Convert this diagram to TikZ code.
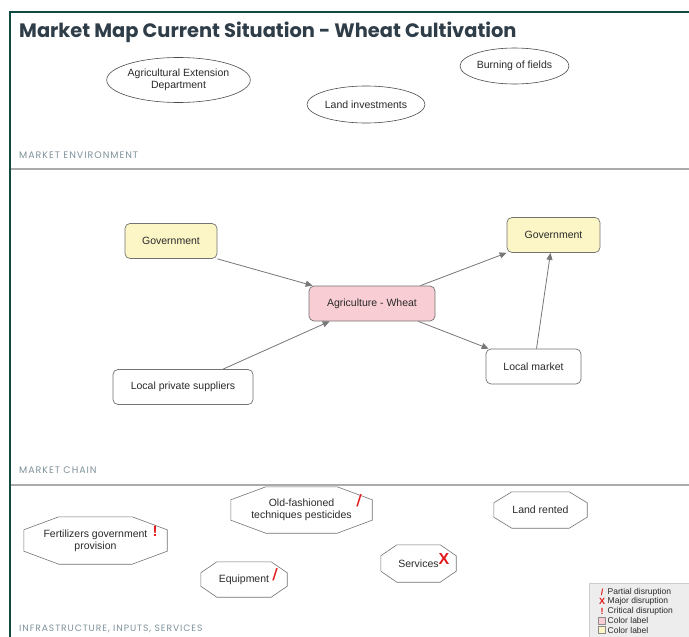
\documentclass[tikz,border=0pt]{standalone}
\usepackage{fontspec}
\setmainfont{Liberation Sans}
\newfontfamily\titlefont{Poppins}
\newfontfamily\secfont{Poppins}[LetterSpace=10]
\newfontfamily\slashfont{DejaVu Sans}
\usetikzlibrary{arrows.meta,shapes.geometric}

\definecolor{framegreen}{HTML}{0E4A3F}
\definecolor{sepgray}{HTML}{ABABAB}
\definecolor{titleblue}{HTML}{2E3D48}
\definecolor{secgray}{HTML}{7F929B}
\definecolor{boxyellow}{HTML}{FCF6C6}
\definecolor{boxpink}{HTML}{F8CDD3}
\definecolor{linegray}{HTML}{777777}
\definecolor{txtgray}{HTML}{2A2A2A}
\definecolor{disred}{HTML}{E3191C}
\definecolor{legendbg}{HTML}{EDEDED}

\newcommand{\octo}[3]{\draw[octline] ([xshift=#2]#1.north west) -- ([xshift=-#2]#1.north east) -- ([yshift=-#3]#1.north east) -- ([yshift=#3]#1.south east) -- ([xshift=-#2]#1.south east) -- ([xshift=#2]#1.south west) -- ([yshift=#3]#1.south west) -- ([yshift=-#3]#1.north west) -- cycle;}

\begin{document}
\begin{tikzpicture}[x=1pt,y=-1pt,
  every node/.style={font=\fontsize{10.5}{12}\selectfont, text=txtgray},
  actor/.style={draw=black!55, rounded corners=5pt, minimum height=35pt, inner sep=0pt, line width=0.7pt},
  envell/.style={ellipse, draw=black!70, inner sep=0pt, line width=0.6pt, align=center},
  infra/.style={inner sep=0pt, align=center},
  octline/.style={draw=black!55, line width=0.6pt},
  flow/.style={draw=linegray, line width=0.8pt, -{Triangle[length=7pt,width=6pt]}},
  disrupt/.style={text=disred, inner sep=0pt, font=\bfseries\fontsize{15}{15}\selectfont},
  slashmk/.style={text=disred, inner sep=0pt, font=\slashfont\bfseries\fontsize{15}{15}\selectfont},
  seclabel/.style={anchor=base west, inner sep=0pt, text=secgray, font=\secfont\fontsize{9.5}{10}\selectfont},
  legtext/.style={anchor=west, inner sep=0pt, font=\fontsize{8.5}{10}\selectfont},
  legsym/.style={text=disred, inner sep=0pt, font=\bfseries\fontsize{9}{10}\selectfont}]

\useasboundingbox (0,0) rectangle (689,637);
\fill[white] (0,0) rectangle (689,637);

\draw[framegreen, line width=2.5pt] (10,637) -- (10,12) -- (689,12);
\draw[sepgray, line width=2.2pt] (11,169) -- (689,169);
\draw[sepgray, line width=2.2pt] (11,485) -- (689,485);

\node [anchor=base west, inner sep=0pt, text=titleblue, font=\titlefont\bfseries\fontsize{19.4}{20}\selectfont] (title) at (19,37) {Market Map Current Situation - Wheat Cultivation};

\node [seclabel] (envlabel) at (19,158) {MARKET ENVIRONMENT};
\node [seclabel] (chainlabel) at (19,473) {MARKET CHAIN};
\node [seclabel, font=\secfont\fontsize{9.2}{10}\selectfont] (infralabel) at (19,631) {INFRASTRUCTURE, INPUTS, SERVICES};

\node [envell, minimum width=141pt, minimum height=45pt] (extension) at (178.5,80) {Agricultural Extension\\Department};
\node [envell, minimum width=109pt, minimum height=36pt] (burning) at (514.5,66) {Burning of fields};
\node [envell, minimum width=118pt, minimum height=37pt] (landinv) at (366,104.5) {Land investments};

\node [actor, fill=boxyellow, minimum width=92pt] (govin) at (171,241) {Government};
\node [actor, fill=boxyellow, minimum width=93pt] (govout) at (553.5,235) {Government};
\node [actor, fill=boxpink, minimum width=126pt] (agri) at (372,303.5) {Agriculture - Wheat};
\node [actor, minimum width=140pt] (suppliers) at (183,387) {Local private suppliers};
\node [actor, minimum width=95pt] (localmkt) at (533.5,366.5) {Local market};

\draw[flow] (govin.south east) -- ([xshift=4pt]agri.north west);
\draw[flow] ([xshift=40pt]suppliers.north) -- ([xshift=21pt]agri.south west);
\draw[flow] ([xshift=-15pt]agri.north east) -- (govout.south west);
\draw[flow] ([xshift=-17pt]agri.south east) -- ([xshift=3pt]localmkt.north west);
\draw[flow] ([xshift=3pt]localmkt.north) -- ([xshift=-3pt]govout.south);

\node [infra, minimum width=143pt, minimum height=47pt] (fert) at (95.5,540.5) {Fertilizers government\\provision};
\node [infra, minimum width=141pt, minimum height=46pt] (oldtech) at (301.5,510) {Old-fashioned\\techniques pesticides};
\node [infra, minimum width=86pt, minimum height=35pt] (equip) at (244,579.5) {Equipment};
\node [infra, minimum width=93pt, minimum height=36pt] (landrent) at (540.5,510) {Land rented};
\node [infra, minimum width=75pt, minimum height=37pt] (services) at (418.5,563.5) {Services};
\octo{fert}{35pt}{13pt}
\octo{oldtech}{35pt}{13pt}
\octo{equip}{16pt}{11pt}
\octo{landrent}{18pt}{11pt}
\octo{services}{16pt}{11pt}

\node [disrupt] (fertmk) at (155,531) {!};
\node [slashmk] (oldtechmk) at (359,501) {/};
\node [slashmk] (equipmk) at (275,575) {/};
\node [disrupt, font=\bfseries\fontsize{16}{16}\selectfont] (servicesmk) at (444,559) {X};

\node [draw=black!20, fill=legendbg, minimum width=101pt, minimum height=58pt, inner sep=0pt, anchor=north west] (legend) at (589,583) {};
\node [legsym] (partsym) at (602,592) {/};
\node [legtext] (parttxt) at (607.5,592) {Partial disruption};
\node [legsym] (majsym) at (602,601.5) {X};
\node [legtext] (majtxt) at (607.5,601.5) {Major disruption};
\node [legsym] (critsym) at (602,611) {!};
\node [legtext] (crittxt) at (607.5,611) {Critical disruption};
\node [draw=black!45, fill=boxpink, minimum size=7pt, inner sep=0pt] (pinksym) at (602,620.5) {};
\node [legtext] (pinktxt) at (607.5,620.5) {Color label};
\node [draw=black!45, fill=boxyellow, minimum size=7pt, inner sep=0pt] (yellowsym) at (602,630) {};
\node [legtext] (yellowtxt) at (607.5,630) {Color label};

\end{tikzpicture}
\end{document}
